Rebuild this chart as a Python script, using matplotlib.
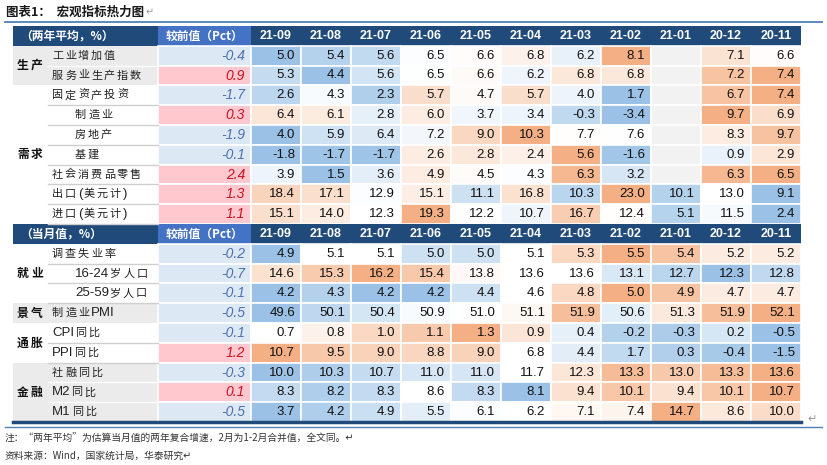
import numpy as np
import matplotlib.pyplot as plt
from matplotlib.patches import Rectangle
from matplotlib.colors import to_rgb

plt.rcParams['font.family'] = ['Noto Sans CJK SC', 'DejaVu Sans']

months = ['21-09', '21-08', '21-07', '21-06', '21-05', '21-04',
          '21-03', '21-02', '21-01', '20-12', '20-11']

# section 1: two-year average
labels1 = ['工业增加值', '服务业生产指数', '固定资产投资', '制造业', '房地产',
           '基建', '社会消费品零售', '出口(美元计)', '进口(美元计)']
indent1 = [0, 0, 0, 1, 1, 1, 0, 0, 0]
chg1 = [-0.4, 0.9, -1.7, 0.3, -1.9, -0.1, 2.4, 1.3, 1.1]
vals1 = [
    [5.0, 5.4, 5.6, 6.5, 6.6, 6.8, 6.2, 8.1, None, 7.1, 6.6],
    [5.3, 4.4, 5.6, 6.5, 6.6, 6.2, 6.8, 6.8, None, 7.2, 7.4],
    [2.6, 4.3, 2.3, 5.7, 4.7, 5.7, 4.0, 1.7, None, 6.7, 7.4],
    [6.4, 6.1, 2.8, 6.0, 3.7, 3.4, -0.3, -3.4, None, 9.7, 6.9],
    [4.0, 5.9, 6.4, 7.2, 9.0, 10.3, 7.7, 7.6, None, 8.3, 9.7],
    [-1.8, -1.7, -1.7, 2.6, 2.8, 2.4, 5.6, -1.6, None, 0.9, 2.9],
    [3.9, 1.5, 3.6, 4.9, 4.5, 4.3, 6.3, 3.2, None, 6.3, 6.5],
    [18.4, 17.1, 12.9, 15.1, 11.1, 16.8, 10.3, 23.0, 10.1, 13.0, 9.1],
    [15.1, 14.0, 12.3, 19.3, 12.2, 10.7, 16.7, 12.4, 5.1, 11.5, 2.4],
]
groups1 = [('生产', 0, 2, True), ('需求', 2, 9, False)]

# section 2: monthly values
labels2 = ['调查失业率', '16-24岁人口', '25-59岁人口', '制造业PMI', 'CPI同比',
           'PPI同比', '社融同比', 'M2同比', 'M1同比']
indent2 = [0, 1, 1, 0, 0, 0, 0, 0, 0]
chg2 = [-0.2, -0.7, -0.1, -0.5, -0.1, 1.2, -0.3, 0.1, -0.5]
vals2 = [
    [4.9, 5.1, 5.1, 5.0, 5.0, 5.1, 5.3, 5.5, 5.4, 5.2, 5.2],
    [14.6, 15.3, 16.2, 15.4, 13.8, 13.6, 13.6, 13.1, 12.7, 12.3, 12.8],
    [4.2, 4.3, 4.2, 4.2, 4.4, 4.6, 4.8, 5.0, 4.9, 4.7, 4.7],
    [49.6, 50.1, 50.4, 50.9, 51.0, 51.1, 51.9, 50.6, 51.3, 51.9, 52.1],
    [0.7, 0.8, 1.0, 1.1, 1.3, 0.9, 0.4, -0.2, -0.3, 0.2, -0.5],
    [10.7, 9.5, 9.0, 8.8, 9.0, 6.8, 4.4, 1.7, 0.3, -0.4, -1.5],
    [10.0, 10.3, 10.7, 11.0, 11.0, 11.7, 12.3, 13.3, 13.0, 13.3, 13.6],
    [8.3, 8.2, 8.3, 8.6, 8.3, 8.1, 9.4, 10.1, 9.4, 10.1, 10.7],
    [3.7, 4.2, 4.9, 5.5, 6.1, 6.2, 7.1, 7.4, 14.7, 8.6, 10.0],
]
groups2 = [('就业', 0, 3, False), ('景气', 3, 4, True),
           ('通胀', 4, 6, False), ('金融', 6, 9, True)]

sections = [('（两年平均，%）', labels1, indent1, chg1, vals1, groups1),
            ('（当月值，%）', labels2, indent2, chg2, vals2, groups2)]

# layout (pixels)
W, H = 827, 465
X0, CATW, LABW, CHGW, MW = 13, 35, 110, 93, 50
TOP, RH = 26, 19.8
NAVY = '#1f4a7a'
BLUE_MIN, MID, ORANGE_MAX = np.array(to_rgb('#9bc2e6')), np.array([1, 1, 1]), np.array(to_rgb('#f4b084'))
GRAYBG = '#ebebeb'
numfont = 'Liberation Sans'


def cell_color(v, row):
    arr = np.array([x for x in row if x is not None], dtype=float)
    lo, hi, mid = arr.min(), arr.max(), np.percentile(arr, 50)
    if v <= mid:
        t = 0 if mid == lo else (v - lo) / (mid - lo)
        return BLUE_MIN * (1 - t) + MID * t
    t = 0 if hi == mid else (v - mid) / (hi - mid)
    return MID * (1 - t) + ORANGE_MAX * t


fig = plt.figure(figsize=(W / 100, H / 100), dpi=100)
ax = fig.add_axes([0, 0, 1, 1])
ax.set_xlim(0, W)
ax.set_ylim(H, 0)
ax.axis('off')
renderer = fig.canvas.get_renderer()


def spaced_text(x, y, s, pitch=13, size=8, weight='normal', color='#222222'):
    # CJK glyphs at a fixed pitch (letter-spaced), ascii runs drawn normally
    i = 0
    while i < len(s):
        if ord(s[i]) < 128:
            j = i
            while j < len(s) and ord(s[j]) < 128:
                j += 1
            t = ax.text(x, y, s[i:j], fontsize=9.5, va='center', color=color,
                        family=numfont, weight=weight)
            x += t.get_window_extent(renderer).width + 1
            i = j
        else:
            ax.text(x, y, s[i], fontsize=size, va='center', color=color, weight=weight)
            x += pitch
            i += 1


xl = X0 + CATW
xc = xl + LABW
xm = xc + CHGW
xend = xm + MW * len(months)

t = ax.text(6, 12, '图表1：  宏观指标热力图', fontsize=9, fontweight='bold', va='center', color='#1a1a1a')
ax.text(6 + t.get_window_extent(renderer).width + 1, 12, '↵', fontsize=7, va='center', color='#999999')
ax.plot([5, 822], [22, 22], color='#4f7fb8', lw=1.3)

y = TOP
for title, labels, indent, chg, vals, groups in sections:
    # header row
    ax.add_patch(Rectangle((X0, y), xend - X0, RH, color=NAVY, lw=0))
    ax.add_patch(Rectangle((xc, y), CHGW, RH, color='#4472c4', lw=0))
    ax.text(X0 + 7, y + RH / 2, title, color='white', fontsize=8.5, fontweight='bold', va='center')
    ax.text(xc + CHGW / 2, y + RH / 2, '较前值（Pct）', color='white', fontsize=8.5,
            fontweight='bold', va='center', ha='center')
    for j, m in enumerate(months):
        ax.text(xm + MW * j + MW / 2, y + RH / 2, m, color='white', fontsize=9,
                fontweight='bold', va='center', ha='center', family=numfont)
    y0 = y + RH
    # group blocks
    for name, a, b, gray in groups:
        if gray:
            ax.add_patch(Rectangle((X0, y0 + a * RH), CATW + LABW, (b - a) * RH, color=GRAYBG, lw=0))
        spaced_text(X0 + 4, y0 + (a + b) / 2 * RH, name, pitch=14, size=8.5,
                    weight='bold', color='#111111')
        for i in range(a, b):
            if i < b - 1 or not gray:
                ax.plot([xl, xc], [y0 + (i + 1) * RH] * 2,
                        color='white' if gray else '#cfcfcf', lw=1.0)
    for i, lab in enumerate(labels):
        yc = y0 + i * RH + RH / 2
        spaced_text(xl + 4 + indent[i] * 23, yc, lab)
        c = chg[i]
        ax.add_patch(Rectangle((xc, y0 + i * RH), CHGW, RH, facecolor='#ffc7ce' if c > 0 else '#dde8f5',
                               edgecolor='white', lw=1.2))
        ax.text(xc + CHGW - 6, yc, f'{c:.1f}', fontsize=10, style='italic', ha='right', va='center',
                color='#cc1020' if c > 0 else '#4f6fae', family=numfont)
        for j, v in enumerate(vals[i]):
            fc = '#f2f2f2' if v is None else cell_color(v, vals[i])
            ax.add_patch(Rectangle((xm + MW * j, y0 + i * RH), MW, RH, facecolor=fc,
                                   edgecolor='white', lw=1.2))
            if v is not None:
                ax.text(xm + MW * (j + 1) - 6, yc, f'{v:.1f}', fontsize=9.5, ha='right', va='center',
                        color='#111111', family=numfont)
    y = y0 + len(labels) * RH

ax.plot([X0, xend], [y, y], color=NAVY, lw=2.5)
ax.text(xend + 6, y - 3, '↵', fontsize=8, va='center', color='#999999')
ax.plot([5, 822], [y + 5, y + 5], color='#4f7fb8', lw=1.0)

ax.text(5, y + 17, '注：“两年平均”为估算当月值的两年复合增速，2月为1-2月合并值，全文同。↵',
        fontsize=7, va='center', color='#333333')
ax.text(5, y + 34, '资料来源：Wind，国家统计局，华泰研究↵', fontsize=7, va='center', color='#333333')

fig.savefig('out.png', dpi=100)
